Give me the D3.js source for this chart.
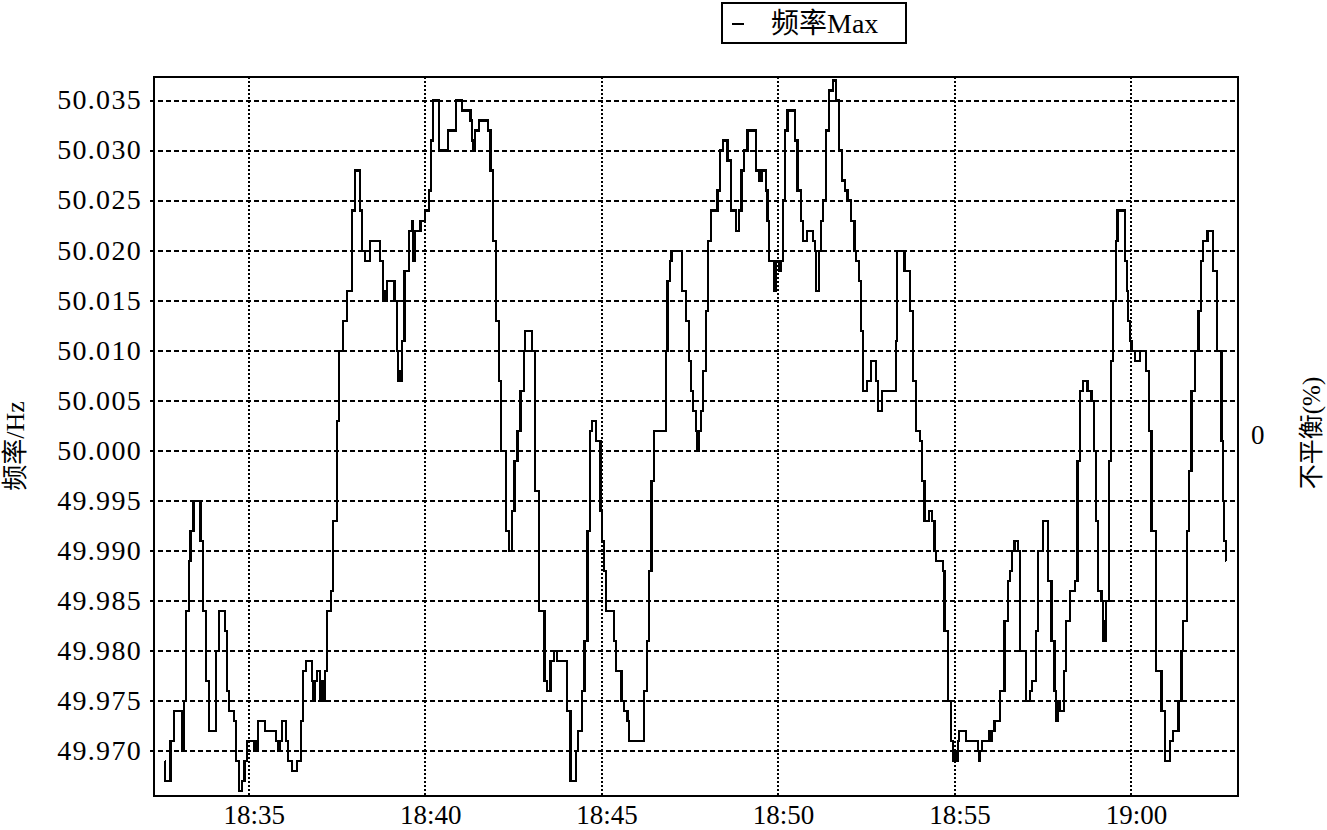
<!DOCTYPE html>
<html><head><meta charset="utf-8">
<script src="https://cdn.jsdelivr.net/npm/d3@7"></script>
<style>body{margin:0;background:#fff}</style>
</head><body>
<svg id="c" width="1327" height="830"></svg>
<script>
const times = [
"18:32:37","18:32:38","18:32:47","18:32:53","18:33:06","18:33:07","18:33:08","18:33:10","18:33:13","18:33:18",
"18:33:21","18:33:26","18:33:38","18:33:42","18:33:48","18:33:52","18:34:05","18:34:10","18:34:20","18:34:23",
"18:34:27","18:34:35","18:34:39","18:34:43","18:34:49","18:34:53","18:34:57","18:35:09","18:35:11","18:35:13",
"18:35:16","18:35:28","18:35:47","18:35:50","18:35:53","18:35:56","18:36:03","18:36:07","18:36:13","18:36:22",
"18:36:29","18:36:33","18:36:37","18:36:47","18:36:50","18:36:53","18:36:56","18:37:01","18:37:04","18:37:07",
"18:37:10","18:37:13","18:37:20","18:37:24","18:37:30","18:37:34","18:37:40","18:37:47","18:37:55","18:38:01",
"18:38:09","18:38:13","18:38:18","18:38:26","18:38:43","18:38:49","18:38:52","18:38:54","18:38:55","18:39:08",
"18:39:12","18:39:14","18:39:16","18:39:18","18:39:20","18:39:25","18:39:32","18:39:37","18:39:40","18:39:43",
"18:39:52","18:40:00","18:40:06","18:40:10","18:40:14","18:40:24","18:40:39","18:40:52","18:41:03","18:41:17",
"18:41:20","18:41:22","18:41:25","18:41:31","18:41:47","18:41:51","18:41:55","18:42:01","18:42:05","18:42:09",
"18:42:18","18:42:22","18:42:28","18:42:32","18:42:37","18:42:42","18:42:48","18:42:50","18:43:02","18:43:07",
"18:43:13","18:43:23","18:43:27","18:43:33","18:43:39","18:43:44","18:44:01","18:44:07","18:44:16","18:44:20",
"18:44:27","18:44:31","18:44:36","18:44:40","18:44:44","18:44:50","18:44:58","18:45:01","18:45:04","18:45:07",
"18:45:21","18:45:24","18:45:34","18:45:38","18:45:44","18:45:47","18:46:12","18:46:17","18:46:21","18:46:25",
"18:46:29","18:46:49","18:46:52","18:46:56","18:46:59","18:47:17","18:47:24","18:47:28","18:47:32","18:47:36",
"18:47:40","18:47:43","18:47:46","18:47:49","18:47:53","18:47:57","18:48:01","18:48:06","18:48:17","18:48:21",
"18:48:26","18:48:34","18:48:40","18:48:48","18:48:53","18:48:58","18:49:02","18:49:08","18:49:22","18:49:27",
"18:49:32","18:49:39","18:49:42","18:49:45","18:49:53","18:49:56","18:50:02","18:50:05","18:50:09","18:50:12",
"18:50:16","18:50:29","18:50:33","18:50:39","18:50:43","18:50:49","18:51:00","18:51:03","18:51:05","18:51:09",
"18:51:13","18:51:16","18:51:22","18:51:26","18:51:33","18:51:39","18:51:43","18:51:49","18:51:54","18:51:58",
"18:52:04","18:52:10","18:52:13","18:52:17","18:52:21","18:52:25","18:52:31","18:52:38","18:52:46","18:52:50",
"18:52:57","18:53:20","18:53:22","18:53:35","18:53:44","18:53:49","18:53:55","18:54:01","18:54:05","18:54:09",
"18:54:16","18:54:22","18:54:26","18:54:29","18:54:40","18:54:43","18:54:49","18:54:54","18:54:58","18:55:01",
"18:55:03","18:55:06","18:55:08","18:55:20","18:55:40","18:55:42","18:55:44","18:55:47","18:55:59","18:56:01",
"18:56:03","18:56:08","18:56:17","18:56:25","18:56:31","18:56:35","18:56:38","18:56:42","18:56:48","18:56:52",
"18:57:01","18:57:08","18:57:12","18:57:18","18:57:22","18:57:31","18:57:39","18:57:45","18:57:50","18:57:53",
"18:57:56","18:57:59","18:58:06","18:58:10","18:58:16","18:58:25","18:58:29","18:58:33","18:58:39","18:58:46",
"18:58:53","18:58:57","18:59:00","18:59:04","18:59:10","18:59:12","18:59:14","18:59:16","18:59:18","18:59:22",
"18:59:26","18:59:30","18:59:34","18:59:37","18:59:50","18:59:53","18:59:55","18:59:58","19:00:01","19:00:07",
"19:00:15","19:00:26","19:00:31","19:00:35","19:00:43","19:00:52","19:00:58","19:01:06","19:01:12","19:01:21",
"19:01:26","19:01:29","19:01:35","19:01:39","19:01:43","19:01:49","19:01:55","19:01:59","19:02:02","19:02:10",
"19:02:20","19:02:26","19:02:34","19:02:36","19:02:38","19:02:41","19:02:42"
];
const freqMax = [
49.969,49.967,49.971,49.974,49.970,49.974,49.970,49.975,49.984,49.989,
49.992,49.995,49.991,49.984,49.977,49.972,49.980,49.984,49.982,49.976,
49.974,49.973,49.969,49.966,49.967,49.969,49.971,49.970,49.971,49.970,
49.973,49.972,49.971,49.970,49.971,49.973,49.971,49.969,49.968,49.969,
49.973,49.978,49.979,49.977,49.975,49.977,49.978,49.975,49.977,49.975,
49.978,49.984,49.986,49.993,50.003,50.010,50.013,50.016,50.024,50.028,
50.024,50.020,50.019,50.021,50.019,50.015,50.016,50.015,50.017,50.015,
50.010,50.007,50.008,50.007,50.011,50.018,50.022,50.023,50.019,50.022,
50.023,50.024,50.026,50.031,50.035,50.030,50.032,50.035,50.034,50.033,
50.031,50.030,50.032,50.033,50.032,50.028,50.021,50.013,50.007,50.000,
49.992,49.990,49.994,49.999,50.002,50.006,50.010,50.012,50.010,49.996,
49.984,49.977,49.976,49.979,49.980,49.979,49.974,49.967,49.970,49.972,
49.976,49.981,49.992,50.002,50.003,50.001,49.994,49.991,49.988,49.984,
49.981,49.978,49.975,49.974,49.973,49.971,49.976,49.981,49.988,49.997,
50.002,50.010,50.017,50.019,50.020,50.016,50.013,50.009,50.006,50.004,
50.002,50.000,50.002,50.004,50.008,50.014,50.021,50.024,50.026,50.030,
50.031,50.029,50.024,50.022,50.024,50.028,50.030,50.032,50.028,50.027,
50.028,50.026,50.023,50.019,50.016,50.019,50.018,50.019,50.025,50.032,
50.034,50.031,50.026,50.023,50.021,50.022,50.021,50.020,50.016,50.020,
50.023,50.025,50.032,50.036,50.037,50.035,50.030,50.027,50.026,50.025,
50.023,50.020,50.019,50.017,50.012,50.006,50.007,50.009,50.007,50.004,
50.006,50.011,50.020,50.018,50.014,50.007,50.002,50.001,49.997,49.993,
49.994,49.993,49.990,49.989,49.988,49.982,49.975,49.971,49.969,49.970,
49.969,49.971,49.972,49.971,49.970,49.969,49.970,49.971,49.972,49.971,
49.972,49.973,49.976,49.983,49.987,49.988,49.990,49.991,49.990,49.980,
49.975,49.976,49.977,49.982,49.990,49.993,49.987,49.981,49.976,49.973,
49.975,49.974,49.978,49.983,49.986,49.987,49.999,50.006,50.007,50.006,
50.005,50.000,49.993,49.986,49.985,49.981,49.983,49.981,49.985,49.999,
50.009,50.015,50.021,50.024,50.019,50.016,50.013,50.011,50.010,50.009,
50.010,50.008,50.002,49.992,49.978,49.974,49.969,49.971,49.972,49.975,
49.980,49.983,49.992,49.998,50.006,50.010,50.014,50.019,50.021,50.022,
50.018,50.010,50.001,49.995,49.991,49.989,49.989
];
const xTickLabels = ["18:35","18:40","18:45","18:50","18:55","19:00"];
const yTickValues = [49.970,49.975,49.980,49.985,49.990,49.995,50.000,50.005,50.010,50.015,50.020,50.025,50.030,50.035];
const rightTickValues = [0];
const legendLabel = "频率Max";
const yTitle = "频率/Hz";
const rightTitle = "不平衡(%)";

const parse = d3.timeParse("%H:%M:%S");
const parseHM = d3.timeParse("%H:%M");
const data = times.map((t, i) => ({t: parse(t), v: freqMax[i]}));

const M = {l: 154, r: 1238, t: 77, b: 796};
const FONT = "'Liberation Serif','Times New Roman','Noto Sans CJK SC',serif";
const svg = d3.select("#c");

const x = d3.scaleTime().domain([parse("18:32:19"), parse("19:03:02")]).range([M.l, M.r]);
const y = d3.scaleLinear().domain([49.9655, 50.03735]).range([M.b, M.t]);
const yR = d3.scaleLinear().domain([-1, 1]).range([M.b, M.t]);
const xTicks = xTickLabels.map(parseHM);

// grid
const grid = svg.append("g").attr("shape-rendering", "crispEdges");
grid.selectAll("line.h").data(yTickValues).join("line")
  .attr("x1", M.l - 4).attr("x2", M.r)
  .attr("y1", d => Math.round(y(d))).attr("y2", d => Math.round(y(d)))
  .attr("stroke", "#000").attr("stroke-width", 2).attr("stroke-dasharray", "5,3");
grid.selectAll("line.v").data(xTicks).join("line")
  .attr("x1", d => Math.round(x(d))).attr("x2", d => Math.round(x(d)))
  .attr("y1", M.t).attr("y2", M.b)
  .attr("stroke", "#000").attr("stroke-width", 2).attr("stroke-dasharray", "2,2");

// clip
svg.append("clipPath").attr("id", "pc").append("rect")
  .attr("x", M.l).attr("y", M.t).attr("width", M.r - M.l).attr("height", M.b - M.t);

// line
const line = d3.line().x(d => x(d.t)).y(d => y(d.v)).curve(d3.curveStepAfter);
svg.append("path").datum(data).attr("clip-path", "url(#pc)")
  .attr("d", line).attr("fill", "none").attr("stroke", "#000").attr("stroke-width", 2.2)
  .attr("shape-rendering", "crispEdges");

// frame
svg.append("rect").attr("x", M.l).attr("y", M.t).attr("width", M.r - M.l).attr("height", M.b - M.t)
  .attr("fill", "none").attr("stroke", "#000").attr("stroke-width", 1.6).attr("shape-rendering", "crispEdges");

// left axis
const ya = svg.append("g").attr("transform", `translate(${M.l},0)`)
  .call(d3.axisLeft(y).tickValues(yTickValues).tickFormat(d3.format(".3f")).tickSize(0).tickPadding(12));
ya.select(".domain").remove();
ya.selectAll("text").attr("font-family", FONT).attr("font-size", 28).attr("fill", "#000")
  .attr("letter-spacing", 1.3).attr("dy", "0.3em");

// bottom axis
const xa = svg.append("g").attr("transform", `translate(0,${M.b})`)
  .call(d3.axisBottom(x).tickValues(xTicks).tickFormat(d3.timeFormat("%H:%M")).tickSize(0).tickPadding(9));
xa.select(".domain").remove();
xa.selectAll("text").attr("font-family", FONT).attr("font-size", 27).attr("fill", "#000")
  .attr("dx", 5);

// right axis
const ra = svg.append("g").attr("transform", `translate(${M.r},0)`)
  .call(d3.axisRight(yR).tickValues(rightTickValues).tickFormat(d3.format("d")).tickSize(0).tickPadding(13));
ra.select(".domain").remove();
ra.selectAll("text").attr("font-family", FONT).attr("font-size", 27).attr("fill", "#000").attr("dy", "0.25em");

// titles
svg.append("text").attr("transform", `translate(15,446) rotate(-90)`)
  .attr("text-anchor", "middle").attr("dominant-baseline", "central")
  .attr("font-family", FONT).attr("font-size", 26).text(yTitle);
svg.append("text").attr("transform", `translate(1311,433) rotate(-90)`)
  .attr("text-anchor", "middle").attr("dominant-baseline", "central")
  .attr("font-family", FONT).attr("font-size", 25).text(rightTitle);

// legend
const lg = svg.append("g");
lg.append("rect").attr("x", 722).attr("y", 3).attr("width", 184).attr("height", 40)
  .attr("fill", "#fff").attr("stroke", "#000").attr("stroke-width", 2);
lg.append("line").attr("x1", 732).attr("x2", 744).attr("y1", 24).attr("y2", 24)
  .attr("stroke", "#000").attr("stroke-width", 2);
lg.append("text").attr("x", 771).attr("y", 33).attr("font-family", FONT).attr("font-size", 28)
  .text(legendLabel);
</script>
</body></html>
